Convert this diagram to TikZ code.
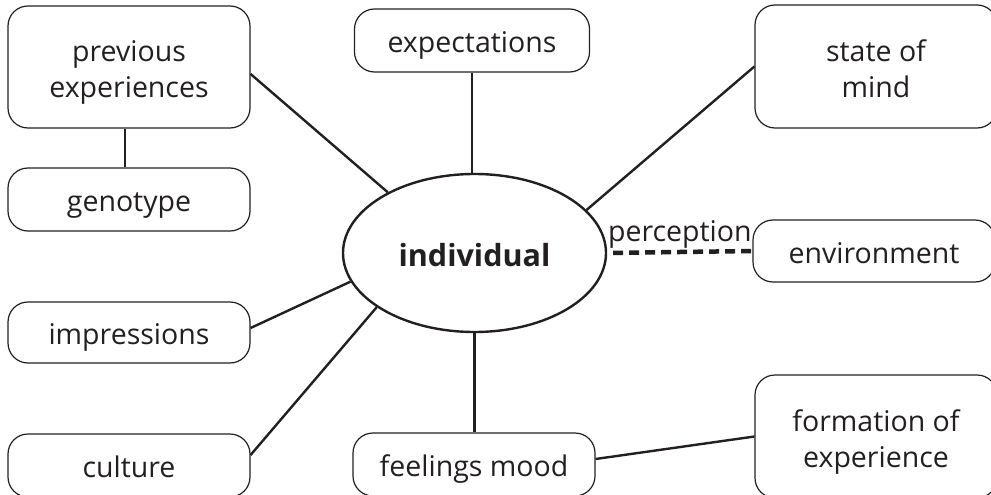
\documentclass[tikz,border=0pt]{standalone}
\usepackage{fontspec}
\setmainfont{Open Sans}
\usetikzlibrary{shapes.geometric}
\definecolor{ink}{HTML}{231F20}
\begin{document}
\begin{tikzpicture}[x=1pt,y=-1pt,
  every node/.style={text=ink, font=\fontsize{28.5}{36}\selectfont},
  topic/.style={draw=ink, line width=1.2pt, rounded corners=20pt,
    minimum width=242pt, inner sep=0pt, align=center,
    text height=26pt, text depth=2pt},
  twoline/.style={text height=64pt, text depth=2pt},
  hub/.style={draw=ink, line width=2.4pt, ellipse, minimum width=263pt,
    minimum height=158pt, inner sep=0pt, text height=28pt, text depth=2pt,
    font=\fontsize{30.5}{36}\selectfont\bfseries},
  link/.style={draw=ink, line width=2.4pt},
  weak/.style={draw=ink, line width=4.5pt, dash pattern=on 10pt off 6pt}]
\clip (0,0) rectangle (991,495);

% central concept
\node[hub] (ind) at (474.5,253) {individual};

% surrounding factors
\node[topic, twoline, minimum height=122pt] (prev) at (129,67) {previous\\experiences};
\node[topic, minimum height=63pt]  (geno)   at (129,199.5) {genotype};
\node[topic, minimum height=61pt]  (impr)   at (129,332.5) {impressions};
\node[topic, minimum height=63pt]  (cult)   at (129,465.5) {culture};
\node[topic, minimum height=63pt, minimum width=235pt] (expect) at (472,40.5) {expectations};
\node[topic, minimum height=63pt]  (feel)   at (474,464.5) {feelings mood};
\node[topic, twoline, minimum height=123pt] (state) at (876,66.5) {state of\\mind};
\node[topic, minimum height=62pt]  (env)    at (874,251)   {environment};
\node[topic, twoline, minimum height=123pt] (form) at (876,436.5) {formation of\\experience};

% connections
\draw[link] ([xshift=-4pt]prev.south) -- ([xshift=-4pt]geno.north);
\draw[link] ([yshift=-7pt]prev.east) -- (ind.145.3);
\draw[link] (expect.south) -- (expect.south |- ind.north);
\draw[link] (state.west) -- (ind.21.3);
\draw[weak, shorten <=6pt] (ind.east) -- node[above, inner sep=1pt] (perc) {perception} (env.west);
\draw[link] ([yshift=4.5pt]impr.east) -- (ind.193.9);
\draw[link] ([yshift=10.5pt]cult.east) -- (ind.209);
\draw[link] (ind.south) -- (ind.south |- feel.north);
\draw[link] ([yshift=5.5pt]feel.east) -- (form.west);
\end{tikzpicture}
\end{document}
